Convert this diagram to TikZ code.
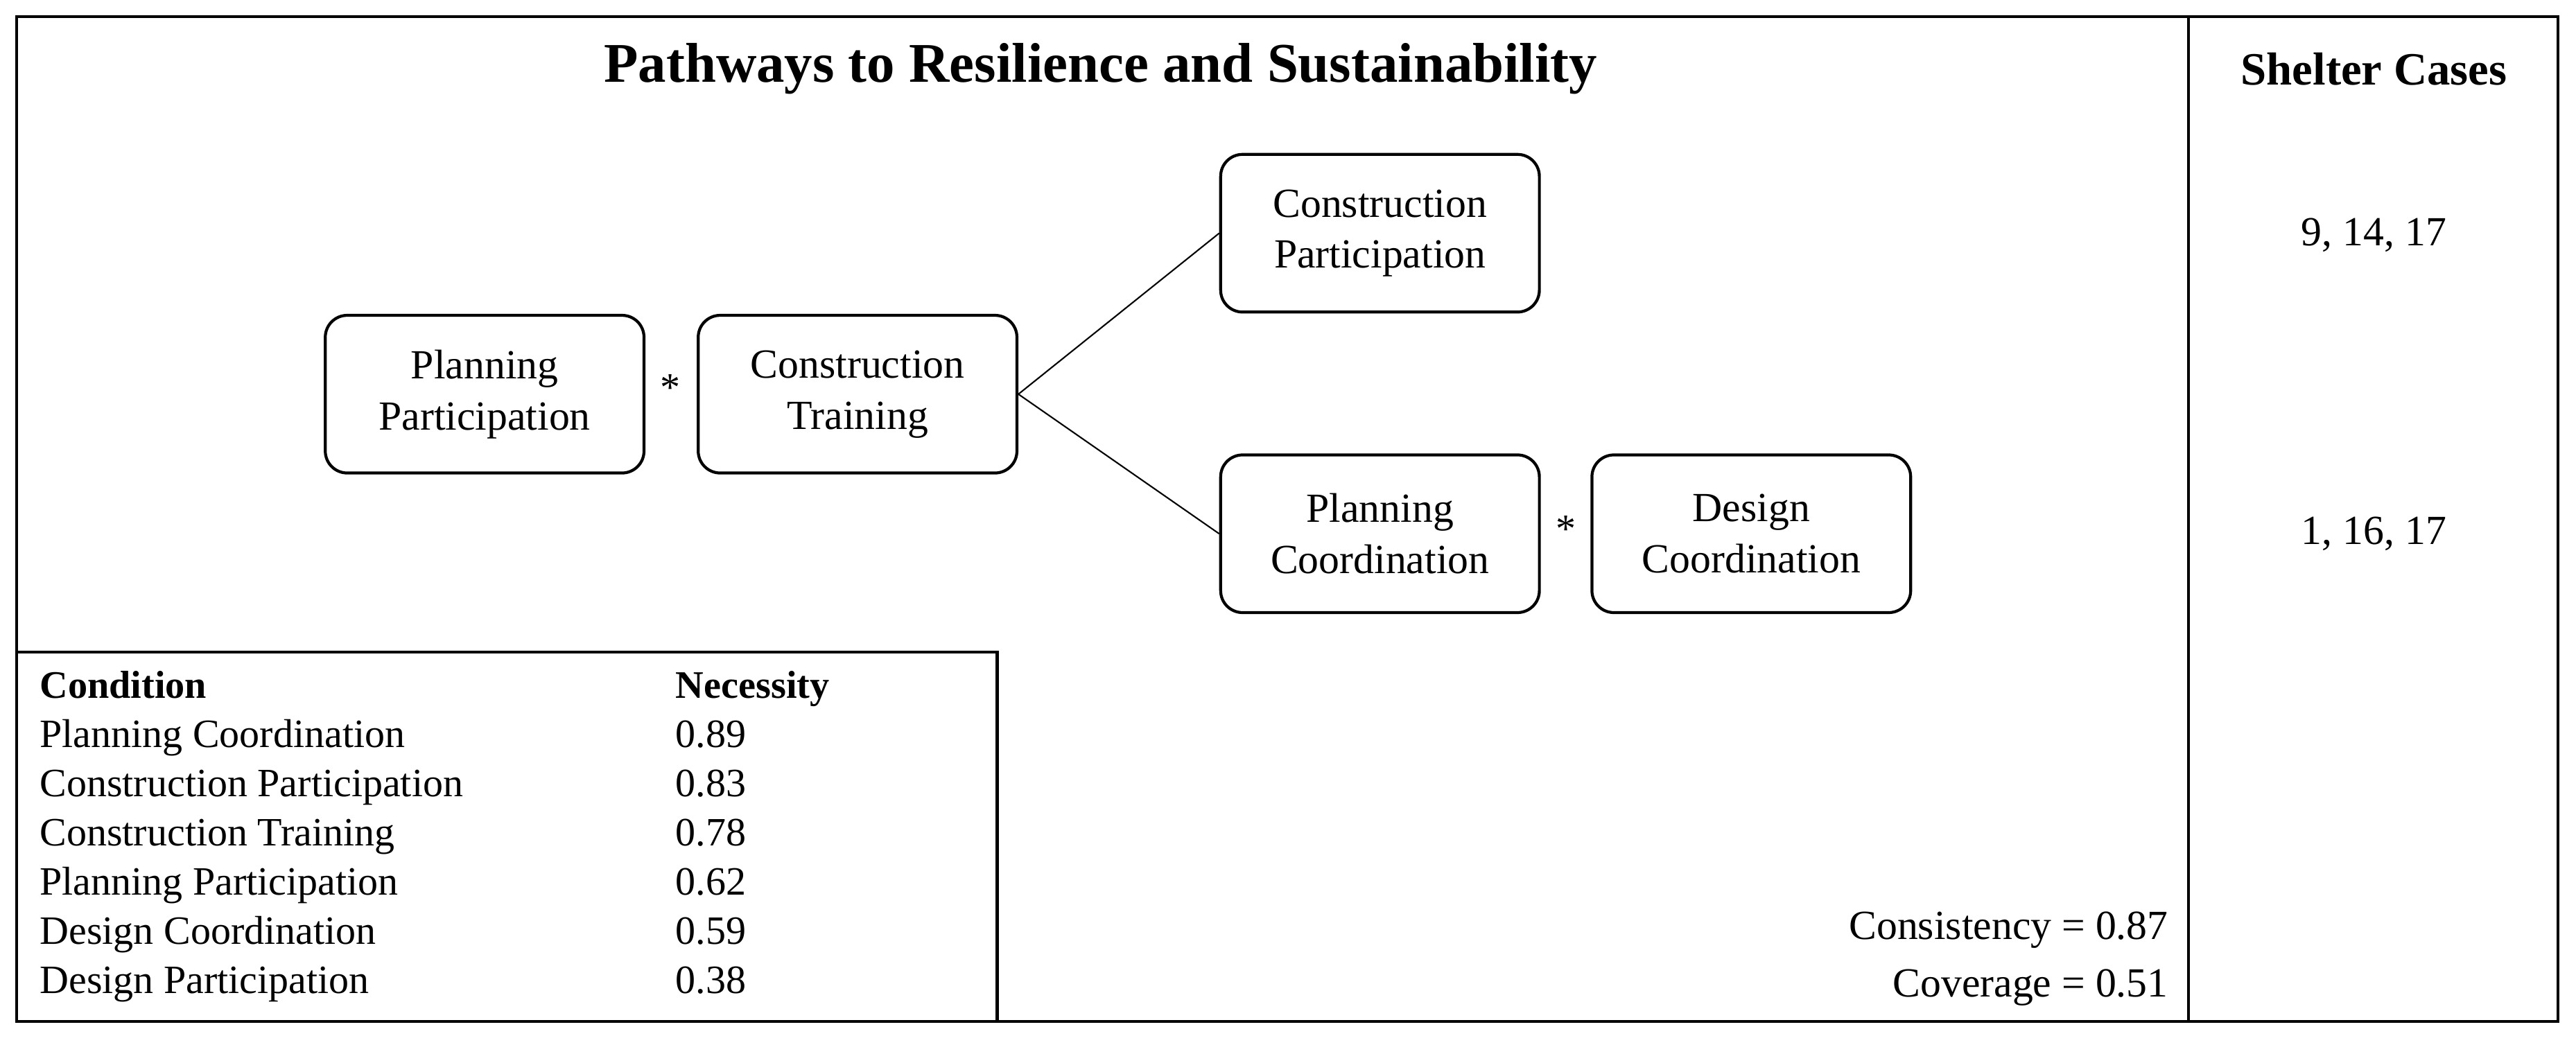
\documentclass[tikz,border=0pt]{standalone}
\usepackage{fontspec}
\setmainfont{Liberation Serif}
\begin{document}
\begin{tikzpicture}[x=0.0237cm,y=-0.0237cm,
  box/.style={draw,rounded corners=9pt,line width=1.2pt,minimum width=194*0.0237cm,minimum height=96*0.0237cm,align=center,font=\fontsize{17}{21}\selectfont},
  txt/.style={font=\fontsize{16.5}{19}\selectfont,inner sep=0pt},
  frame/.style={draw,line width=1.2pt}]
\useasboundingbox (0,0) rectangle (1568,636.3);
\draw[frame] (10,10) rectangle (1557,622);
\draw[frame] (1332,10) -- (1332,622);
\node[font=\fontsize{23}{27}\selectfont\bfseries] (title) at (670,42) {Pathways to Resilience and Sustainability};
\node[font=\fontsize{19}{22}\selectfont\bfseries] (sc) at (1445,42) {Shelter Cases};
\node[box] (pp) at (295,240) {Planning\\Participation};
\node[box] (ct) at (522,240) {Construction\\Training};
\node[box] (cp) at (840,142) {Construction\\Participation};
\node[box] (pc) at (840,325) {Planning\\Coordination};
\node[box] (dc) at (1066,325) {Design\\Coordination};
\node[txt] (s1) at (408,236) {*};
\node[txt] (s2) at (953,322) {*};
\draw[line width=0.6pt] (ct.east) -- (cp.west);
\draw[line width=0.6pt] (ct.east) -- (pc.west);
\node[txt,font=\fontsize{17}{20}\selectfont] (c1) at (1445,143) {9, 14, 17};
\node[txt,font=\fontsize{17}{20}\selectfont] (c2) at (1445,325) {1, 16, 17};
\draw[frame] (10,397) rectangle (607,622);
\node[txt,anchor=base west,font=\fontsize{16}{19}\selectfont\bfseries] (h1) at (24,425) {Condition};
\node[txt,anchor=base west,font=\fontsize{16}{19}\selectfont\bfseries] (h2) at (411,425) {Necessity};
\foreach \n/\v [count=\i] in {Planning Coordination/0.89,Construction Participation/0.83,Construction Training/0.78,Planning Participation/0.62,Design Coordination/0.59,Design Participation/0.38}{
  \node[txt,anchor=base west] (r\i) at (24,425+30*\i) {\n};
  \node[txt,anchor=base west] (v\i) at (411,425+30*\i) {\v};
}
\node[txt,anchor=base east,font=\fontsize{17}{20}\selectfont] (cons) at (1320,572) {Consistency = 0.87};
\node[txt,anchor=base east,font=\fontsize{17}{20}\selectfont] (cov) at (1320,607) {Coverage = 0.51};
\end{tikzpicture}
\end{document}
